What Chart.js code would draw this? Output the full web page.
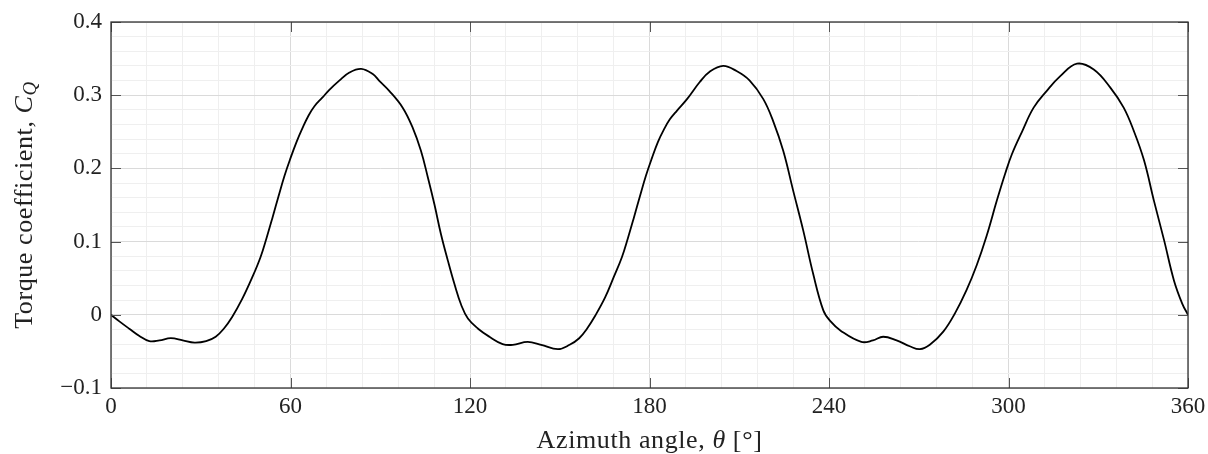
<!DOCTYPE html>
<html>
<head>
<meta charset="utf-8">
<script src="https://cdn.jsdelivr.net/npm/chart.js@4"></script>
<style>
  body { margin: 0; background: #fff; }
  #wrap { width: 1208px; height: 454px; position: relative; }
</style>
</head>
<body>
<div id="wrap"><canvas id="chartTorque"></canvas></div>
<script>
// azimuth angle [deg] and torque coefficient
let theta = [0, 2.8, 6.1, 9.5, 12.8, 16.2, 20, 24, 27.9, 31.8, 35, 37.7, 40.5, 43.9, 47.2, 50, 52, 54, 56, 58,
    60, 62, 64, 66, 68, 70.7, 72.9, 76.3, 79.7, 83.6, 87.5, 89.6, 93, 97.5, 100.8, 103.6, 105.9, 108.1, 110.3,
    112.6, 114.8, 117.1, 119.3, 122.7, 126.5, 130.9, 134.3, 139.3, 143.8, 149.4, 153.3, 156.5, 159.1, 161.9, 165.2,
    168, 170.8, 172.8, 174.8, 176.8, 178.8, 180.8, 182.8, 184.8, 186.8, 189.2, 192.6, 196.8, 200.1, 204.6, 209.1,
    213.5, 218, 221.3, 224.7, 228, 231.4, 234.7, 238.1, 240.3, 244, 250.8, 254.7, 258.1, 262.6, 267, 270.4, 273.7,
    278.2, 282.1, 286, 289.4, 292.7, 296.1, 298.9, 301.1, 304.5, 308.4, 312.8, 317.3, 322.9, 328.5, 334.1, 338.5,
    341.9, 345.3, 348.6, 352, 355.3, 358.1, 360];
let torque = [0, -0.009, -0.019, -0.029, -0.036, -0.035, -0.032, -0.035, -0.038, -0.036, -0.030, -0.019, -0.003,
    0.022, 0.051, 0.079, 0.105, 0.133, 0.162, 0.190, 0.214, 0.236, 0.255, 0.272, 0.285, 0.297, 0.307, 0.320, 0.331,
    0.336, 0.329, 0.320, 0.306, 0.283, 0.256, 0.224, 0.188, 0.151, 0.110, 0.074, 0.042, 0.013, -0.005, -0.019,
    -0.030, -0.040, -0.041, -0.037, -0.041, -0.047, -0.041, -0.032, -0.019, -0.001, 0.024, 0.051, 0.079, 0.105,
    0.133, 0.162, 0.190, 0.214, 0.236, 0.253, 0.267, 0.279, 0.295, 0.318, 0.332, 0.340, 0.333, 0.320, 0.295, 0.265,
    0.224, 0.170, 0.115, 0.056, 0.006, -0.008, -0.022, -0.037, -0.035, -0.030, -0.035, -0.043, -0.047, -0.041,
    -0.023, 0.002, 0.034, 0.068, 0.108, 0.156, 0.193, 0.219, 0.250, 0.283, 0.306, 0.326, 0.343, 0.335, 0.310, 0.283,
    0.251, 0.211, 0.156, 0.102, 0.047, 0.015, 0];

let xTicks = [0, 60, 120, 180, 240, 300, 360];
let yTicks = [-0.1, 0, 0.1, 0.2, 0.3, 0.4];

let fontFamily = '"Liberation Serif", "DejaVu Serif", serif';
let fontSize = 23;
let titleSize = 26;

function isMajor(v, list) {
    return list.some(t => Math.abs(t - v) < 1e-6);
}

function fmtY(v) {
    if (Math.abs(v) < 1e-9) return '0';
    let s = (Math.round(v * 10) / 10).toFixed(1);
    return s.replace('-', '\u2212');
}

// frame, inward ticks and the rich-text axis titles
let framePlugin = {
    id: 'frame',
    afterDraw(chart) {
        let ctx = chart.ctx;
        let a = chart.chartArea;
        let xs = chart.scales.x, ys = chart.scales.y;
        ctx.save();
        ctx.strokeStyle = '#555';
        ctx.lineWidth = 1;
        xTicks.forEach(t => {
            let px = Math.round(xs.getPixelForValue(t)) + 0.5;
            ctx.beginPath();
            ctx.moveTo(px, a.bottom); ctx.lineTo(px, a.bottom - 10);
            ctx.moveTo(px, a.top); ctx.lineTo(px, a.top + 10);
            ctx.stroke();
        });
        yTicks.forEach(t => {
            let py = Math.round(ys.getPixelForValue(t)) + 0.5;
            ctx.beginPath();
            ctx.moveTo(a.left, py); ctx.lineTo(a.left + 10, py);
            ctx.moveTo(a.right, py); ctx.lineTo(a.right - 10, py);
            ctx.stroke();
        });
        ctx.strokeStyle = '#333';
        ctx.lineWidth = 1.3;
        ctx.strokeRect(a.left, a.top, a.right - a.left, a.bottom - a.top);

        let roman = titleSize + 'px ' + fontFamily;
        let italic = 'italic ' + titleSize + 'px ' + fontFamily;
        let small = 'italic ' + Math.round(titleSize * 0.72) + 'px ' + fontFamily;
        ctx.fillStyle = '#222';
        ctx.textBaseline = 'alphabetic';
        ctx.textAlign = 'left';
        ctx.letterSpacing = '0.6px';

        function drawParts(parts, cx, cy) {
            let total = 0;
            parts.forEach(p => { ctx.font = p.font; total += ctx.measureText(p.text).width; });
            let x = cx - total / 2;
            parts.forEach(p => {
                ctx.font = p.font;
                ctx.fillText(p.text, x, cy + (p.dy || 0));
                x += ctx.measureText(p.text).width;
            });
        }

        let midX = (a.left + a.right) / 2;
        drawParts([
            { text: 'Azimuth angle, ', font: roman },
            { text: '\u03b8', font: italic },
            { text: ' [\u00b0]', font: roman }
        ], midX, 448);

        ctx.save();
        ctx.translate(32, (a.top + a.bottom) / 2);
        ctx.rotate(-Math.PI / 2);
        drawParts([
            { text: 'Torque coefficient, ', font: roman },
            { text: 'C', font: italic },
            { text: 'Q', font: small, dy: 4 }
        ], 0, 0);
        ctx.restore();
        ctx.restore();
    }
};

let contextTorque = document.querySelector('#chartTorque').getContext('2d');

let config = {
    type: 'line',
    data: {
        datasets: [{
            label: 'Torque coefficient',
            data: theta.map((t, i) => ({ x: t, y: torque[i] })),
            borderColor: '#000',
            borderWidth: 1.8,
            pointRadius: 0,
            tension: 0.4,
            fill: false
        }]
    },
    options: {
        responsive: true,
        maintainAspectRatio: false,
        animation: false,
        layout: {
            padding: { left: 0, right: 20, top: 22, bottom: 0 }
        },
        plugins: {
            legend: { display: false },
            tooltip: { enabled: false }
        },
        scales: {
            x: {
                type: 'linear',
                min: 0,
                max: 360,
                afterFit(scale) {
                    scale.height = 66;
                    scale.paddingLeft = 0;
                    scale.paddingRight = 0;
                },
                border: { display: false },
                grid: {
                    drawTicks: false,
                    color: ctx => isMajor(ctx.tick.value, xTicks) ? '#dadada' : '#efefef',
                    lineWidth: 1
                },
                ticks: {
                    stepSize: 12,
                    autoSkip: false,
                    maxRotation: 0,
                    padding: 5,
                    color: '#222',
                    font: { family: fontFamily, size: fontSize },
                    callback: v => isMajor(v, xTicks) ? String(Math.round(v)) : ''
                }
            },
            y: {
                min: -0.1,
                max: 0.4,
                afterFit(scale) {
                    scale.width = 111;
                    scale.paddingTop = 0;
                    scale.paddingBottom = 0;
                },
                border: { display: false },
                grid: {
                    drawTicks: false,
                    color: ctx => isMajor(ctx.tick.value, yTicks) ? '#dadada' : '#efefef',
                    lineWidth: 1
                },
                ticks: {
                    stepSize: 0.02,
                    autoSkip: false,
                    padding: 9,
                    color: '#222',
                    font: { family: fontFamily, size: fontSize },
                    callback: v => isMajor(v, yTicks) ? fmtY(v) : ''
                }
            }
        }
    },
    plugins: [framePlugin]
};

let chartTorque = new Chart(contextTorque, config);
</script>
</body>
</html>
